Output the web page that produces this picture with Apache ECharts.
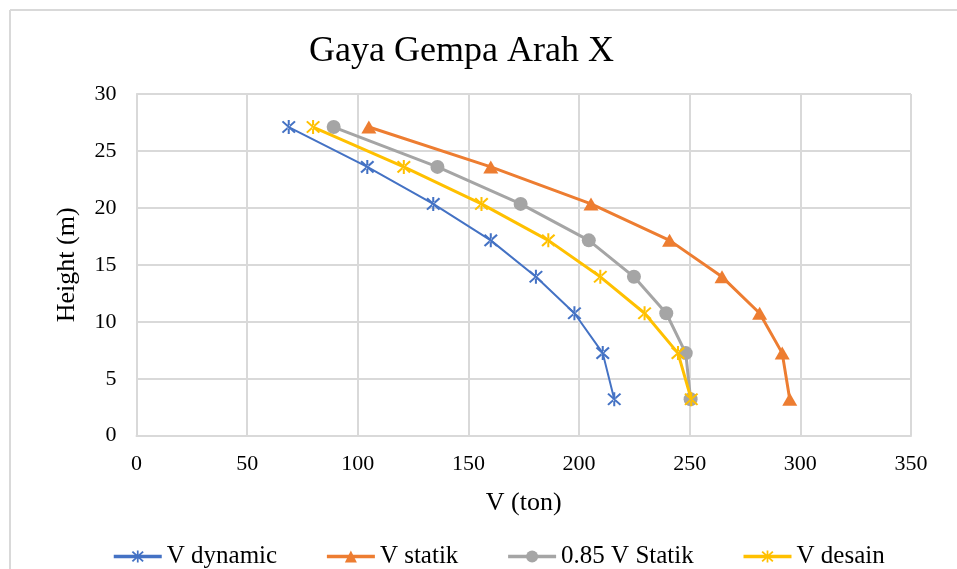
<!DOCTYPE html>
<html>
<head>
<meta charset="utf-8">
<script src="https://cdn.jsdelivr.net/npm/echarts@6/dist/echarts.min.js"></script>
<style>html,body{margin:0;padding:0;background:#fff}#c{width:957px;height:569px}</style>
</head>
<body>
<div id="c"></div>
<script>
const heights = [3.2, 7.25, 10.75, 13.95, 17.15, 20.35, 23.6, 27.1];
const vDynamic = [215.9, 210.7, 197.9, 180.5, 160.1, 134.1, 104.3, 68.8];
const vStatik = [295.2, 291.8, 281.6, 264.6, 240.9, 205.4, 160.1, 105.0];
const v085Statik = [250.4, 248.2, 239.4, 224.8, 204.4, 173.6, 136.0, 89.1];
const vDesain = [250.7, 244.7, 229.6, 209.6, 186.1, 155.9, 120.8, 79.8];
const seriesNames = ['V dynamic', 'V statik', '0.85 V Statik', 'V desain'];
const xTicks = [0, 50, 100, 150, 200, 250, 300, 350];
const yTicks = [0, 5, 10, 15, 20, 25, 30];

const FONT = "'Liberation Serif', 'Times New Roman', serif";
const asterisk = 'path://M-0.13,-1L0.13,-1L0.13,1L-0.13,1Z' +
  'M-0.71,-0.9L0.9,0.71L0.71,0.9L-0.9,-0.71Z' +
  'M-0.71,0.9L0.9,-0.71L0.71,-0.9L-0.9,0.71Z';

function pts(xs) { return xs.map((v, i) => [v, heights[i]]); }

const chart = echarts.init(document.getElementById('c'));
chart.setOption({
  animation: false,
  textStyle: { fontFamily: FONT, color: '#000' },
  title: {
    text: 'Gaya Gempa Arah X',
    left: 304, top: 29,
    textStyle: { fontFamily: FONT, fontSize: 36, fontWeight: 'normal', color: '#000' }
  },
  graphic: [
    { type: 'line', shape: { x1: 10, y1: 10, x2: 957, y2: 10 }, style: { stroke: '#d9d9d9', lineWidth: 2 } },
    { type: 'line', shape: { x1: 10, y1: 10, x2: 10, y2: 569 }, style: { stroke: '#d9d9d9', lineWidth: 2 } }
  ],
  grid: { left: 136.5, right: 46, top: 94, bottom: 133.3 },
  xAxis: {
    type: 'value', min: xTicks[0], max: xTicks[xTicks.length - 1], interval: 50,
    name: 'V (ton)', nameLocation: 'middle', nameGap: 54,
    nameTextStyle: { fontFamily: FONT, fontSize: 26, color: '#000' },
    axisLine: { show: true, lineStyle: { color: '#d9d9d9', width: 2 } },
    axisTick: { show: false },
    axisLabel: { fontFamily: FONT, fontSize: 22, color: '#000', margin: 18 },
    splitLine: { show: true, lineStyle: { color: '#d9d9d9', width: 2 } }
  },
  yAxis: {
    type: 'value', min: yTicks[0], max: yTicks[yTicks.length - 1], interval: 5,
    name: 'Height (m)', nameLocation: 'middle', nameGap: 56,
    nameTextStyle: { fontFamily: FONT, fontSize: 26, color: '#000' },
    axisLine: { show: true, lineStyle: { color: '#d9d9d9', width: 2 } },
    axisTick: { show: false },
    axisLabel: { fontFamily: FONT, fontSize: 22, color: '#000', margin: 20 },
    splitLine: { show: true, lineStyle: { color: '#d9d9d9', width: 2 } }
  },
  legend: {
    left: 107, top: 539, itemGap: 48, itemWidth: 48, itemHeight: 15,
    lineStyle: { width: 3.5 },
    textStyle: { fontFamily: FONT, fontSize: 25, color: '#000' },
    data: seriesNames
  },
  series: [
    { name: seriesNames[0], type: 'line', data: pts(vDynamic), symbol: asterisk, symbolSize: 14,
      lineStyle: { color: '#4472C4', width: 2 }, itemStyle: { color: '#4472C4' }, z: 4 },
    { name: seriesNames[1], type: 'line', data: pts(vStatik), symbol: 'triangle', symbolSize: [15, 13],
      lineStyle: { color: '#ED7D31', width: 3 }, itemStyle: { color: '#ED7D31' }, z: 2 },
    { name: seriesNames[2], type: 'line', data: pts(v085Statik), symbol: 'circle', symbolSize: 14,
      lineStyle: { color: '#A5A5A5', width: 3 }, itemStyle: { color: '#A5A5A5' }, z: 2 },
    { name: seriesNames[3], type: 'line', data: pts(vDesain), symbol: asterisk, symbolSize: 14,
      lineStyle: { color: '#FFC000', width: 3 }, itemStyle: { color: '#FFC000' }, z: 3 }
  ]
});
</script>
</body>
</html>
